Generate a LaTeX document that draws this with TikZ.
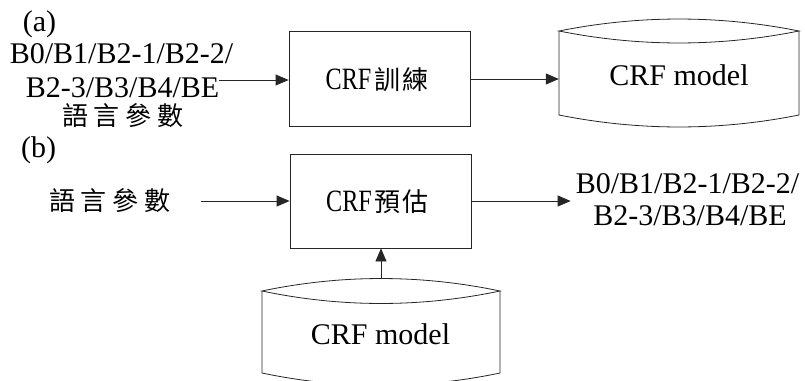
\documentclass[tikz,border=0pt]{standalone}
\usepackage{fontspec}
\setmainfont{Liberation Serif}
\newfontfamily\cjk{Noto Sans CJK TC}
\newfontfamily\narrowlatin[FakeStretch=0.78]{Liberation Serif}
\usetikzlibrary{arrows.meta}

% spaced four-character CJK label
\newcommand\spacedcjk[4]{#1\hspace{6pt}#2\hspace{6pt}#3\hspace{6pt}#4}
% box caption: narrow Latin prefix followed by two CJK characters
\newcommand\boxcaption[3]{{\narrowlatin\fontsize{31}{33}\selectfont #1}\hspace{3pt}{\cjk\fontsize{26}{28}\selectfont #2\hspace{2pt}#3}}

% storage cylinder: x1, x2, y of side tops, y of side bottoms, arc depth
\newcommand\storageshape[5]{%
  \pgfmathsetmacro\wa{#1+(#2-#1)/3}%
  \pgfmathsetmacro\wb{#2-(#2-#1)/3}%
  \pgfmathsetmacro\up{#3-1.33*#5}%
  \pgfmathsetmacro\dn{#3+1.33*#5}%
  \pgfmathsetmacro\bt{#4+1.33*#5}%
  \draw[outline] (#1,#3) .. controls (\wa,\up) and (\wb,\up) .. (#2,#3)
                         .. controls (\wb,\dn) and (\wa,\dn) .. cycle;
  \draw[outline] (#1,#3) -- (#1,#4) .. controls (\wa,\bt) and (\wb,\bt) .. (#2,#4) -- (#2,#3);
}

\begin{document}
\begin{tikzpicture}[
  x=1pt, y=-1pt,
  outline/.style={draw=black!85, line width=0.8pt},
  lbl/.style={font=\fontsize{30}{34}\selectfont, inner sep=0pt, anchor=base},
  cjklbl/.style={font=\cjk\fontsize{26}{28}\selectfont, inner sep=0pt},
  procbox/.style={outline, minimum width=181pt, minimum height=95pt, inner sep=0pt},
  storearea/.style={inner sep=0pt, minimum width=240pt},
  arr/.style={draw=black!85, line width=0.8pt, -{Triangle[length=13pt,width=11pt]}},
]
\useasboundingbox (0,0) rectangle (805,380);

% ---------- (a) training ----------
\node[lbl] (tagA) at (39.5,31) {(a)};
\node[lbl] (inA1) at (121.5,63) {B0/B1/B2-1/B2-2/};
\node[lbl] (inA2) at (122.5,97) {B2-3/B3/B4/BE};
\node[cjklbl] (inA3) at (123,116) {\spacedcjk{語}{言}{參}{數}};

\node[procbox] (trainA) at (379.5,78.5) {};
\node[inner sep=0pt] (trainAtxt) at (377,80) {\boxcaption{CRF}{訓}{練}};

\node[storearea, minimum height=84pt] (modelA) at (679,73) {};
\storageshape{559}{799}{31}{115}{12}
\node[lbl] (modelAtxt) at (679,85) {CRF model};

\draw[arr] (inA2.east |- 0,80) -- (trainA.west |- 0,80);
\draw[arr] (trainA.east |- 0,79) -- (modelA.west |- 0,79);

% ---------- (b) prediction ----------
\node[lbl] (tagB) at (38.5,157) {(b)};
\node[cjklbl] (featB) at (110,201) {\spacedcjk{語}{言}{參}{數}};

\node[procbox, minimum height=94pt] (predB) at (380.5,201) {};
\node[inner sep=0pt] (predBtxt) at (377.5,202) {\boxcaption{CRF}{預}{估}};

\node[lbl] (outB1) at (687.5,193) {B0/B1/B2-1/B2-2/};
\node[lbl] (outB2) at (690,225) {B2-3/B3/B4/BE};

\node[storearea, minimum height=82pt] (modelB) at (381,332) {};
\storageshape{262}{500}{291}{373}{12.5}
\node[lbl] (modelBtxt) at (380.5,344) {CRF model};
\coordinate (modelBtop) at (381,278.5);

\draw[arr] ([xshift=30pt]featB.east |- predB.west) -- (predB.west);
\draw[arr] (predB.east) -- ([xshift=-5pt]outB1.west |- predB.east);
\draw[arr] (modelBtop) -- (predB.south -| modelBtop);
\end{tikzpicture}
\end{document}
